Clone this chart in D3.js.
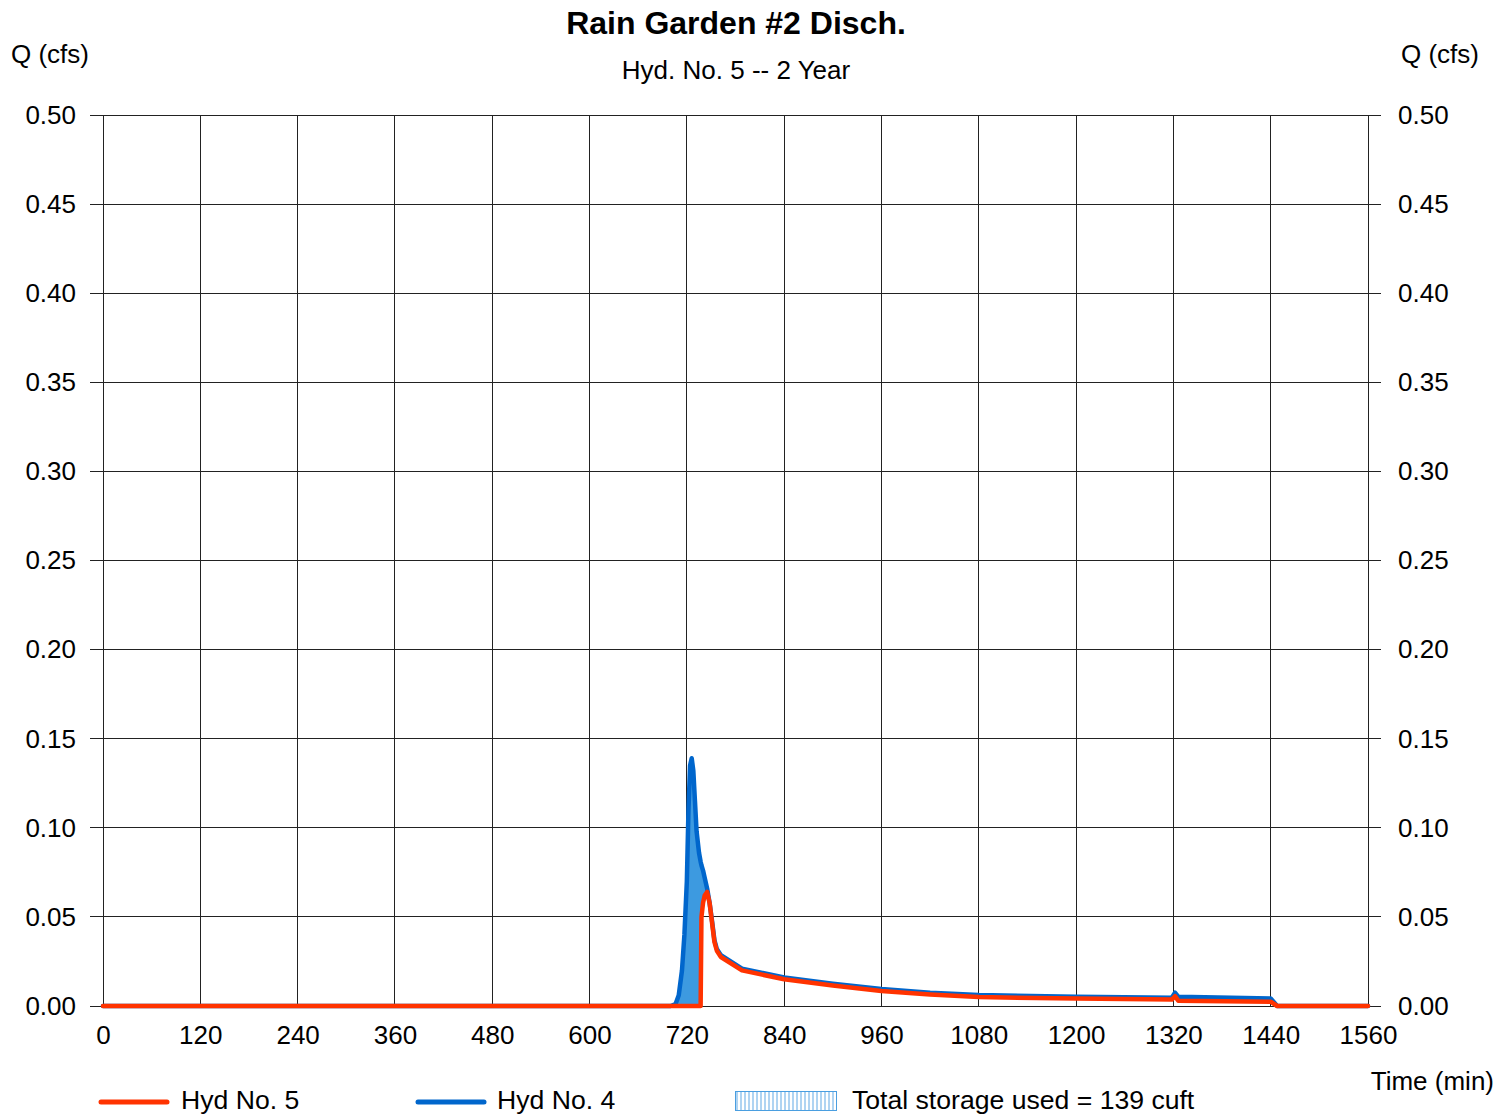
<!DOCTYPE html>
<html>
<head>
<meta charset="utf-8">
<script src="https://cdn.jsdelivr.net/npm/d3@7"></script>
<style>
  html, body { margin: 0; padding: 0; background: #fff; }
  svg { display: block; font-family: "Liberation Sans", Arial, sans-serif; }
</style>
</head>
<body>
<svg id="chart" width="1497" height="1116"></svg>
<script>
// Hydrograph time steps (min)
const times = [0, 700, 706, 710, 714, 717, 720, 722, 724, 726, 728, 730, 732, 735, 737, 738, 740, 742, 745, 748, 751, 754, 757, 762, 788, 840, 900, 960, 1020, 1080, 1200, 1318, 1322, 1326, 1440, 1448, 1560];
// Hyd No. 4 — inflow to the rain garden (cfs)
const hyd4 = [0, 0, 0.001, 0.006, 0.02, 0.04, 0.07, 0.11, 0.135, 0.139, 0.132, 0.115, 0.098, 0.086, 0.081, 0.079, 0.076, 0.072, 0.066, 0.058, 0.048, 0.037, 0.032, 0.0285, 0.021, 0.016, 0.0125, 0.0095, 0.0075, 0.0062, 0.0052, 0.0047, 0.0075, 0.0052, 0.0042, 0, 0];
// Hyd No. 5 — discharge from the rain garden (cfs)
const hyd5 = [0, 0, 0, 0, 0, 0, 0, 0, 0, 0, 0, 0, 0, 0, 0, 0.05, 0.058, 0.062, 0.064, 0.058, 0.047, 0.036, 0.031, 0.0275, 0.020, 0.015, 0.0115, 0.0084, 0.0065, 0.005, 0.0042, 0.0036, 0.0055, 0.003, 0.0024, 0, 0];

const xTicks = [0, 120, 240, 360, 480, 600, 720, 840, 960, 1080, 1200, 1320, 1440, 1560];
const yTicks = [0, 0.05, 0.10, 0.15, 0.20, 0.25, 0.30, 0.35, 0.40, 0.45, 0.50];

const titleText = "Rain Garden #2 Disch.";
const subtitleText = "Hyd. No. 5 -- 2 Year";
const yLabel = "Q (cfs)";
const xLabel = "Time (min)";
const legendItems = ["Hyd No. 5", "Hyd No. 4", "Total storage used = 139 cuft"];

const RED = "#ff3300", BLUE = "#0066cc", FILL = "#3d9ae0";

const svg = d3.select("#chart");
const plotL = 103, plotR = 1368, plotT = 115, plotB = 1006;

const x = d3.scaleLinear().domain([0, 1560]).range([plotL, plotR]);
const y = d3.scaleLinear().domain([0, 0.5]).range([plotB, plotT]);

const series = times.map((t, i) => ({ t, q4: hyd4[i], q5: hyd5[i] }));

// grid
const grid = svg.append("g").attr("stroke", "#222").attr("stroke-width", 1).attr("shape-rendering", "crispEdges");
grid.selectAll("line.v").data(xTicks).join("line").attr("class", "v")
  .attr("x1", d => x(d)).attr("x2", d => x(d)).attr("y1", plotT).attr("y2", plotB);
grid.selectAll("line.h").data(yTicks).join("line").attr("class", "h")
  .attr("x1", plotL - 13).attr("x2", plotR + 13).attr("y1", d => y(d)).attr("y2", d => y(d));

// y axes (left and right), ticks drawn by the grid lines extending out
const yFmt = d3.format(".2f");
const leftAxis = d3.axisLeft(y).tickValues(yTicks).tickFormat(yFmt).tickSize(0).tickPadding(27);
const rightAxis = d3.axisRight(y).tickValues(yTicks).tickFormat(yFmt).tickSize(0).tickPadding(30);
const xAxis = d3.axisBottom(x).tickValues(xTicks).tickFormat(d3.format("d")).tickSize(0).tickPadding(20);

function styleAxis(g) {
  g.select(".domain").remove();
  g.selectAll("text").attr("font-size", 26).attr("fill", "#000").attr("font-family", "Liberation Sans, Arial, sans-serif");
}
svg.append("g").attr("transform", `translate(${plotL},0)`).call(leftAxis).call(styleAxis);
svg.append("g").attr("transform", `translate(${plotR},0)`).call(rightAxis).call(styleAxis);
svg.append("g").attr("transform", `translate(0,${plotB})`).call(xAxis).call(styleAxis);

// storage area between inflow and outflow
const area = d3.area()
  .x(d => x(d.t))
  .y0(d => y(Math.min(d.q4, d.q5)))
  .y1(d => y(d.q4));
svg.append("path").datum(series).attr("d", area).attr("fill", FILL);

const line4 = d3.line().x(d => x(d.t)).y(d => y(d.q4));
const line5 = d3.line().x(d => x(d.t)).y(d => y(d.q5));
svg.append("path").datum(series).attr("d", line4).attr("fill", "none")
  .attr("stroke", BLUE).attr("stroke-width", 4.5).attr("stroke-linejoin", "round").attr("stroke-linecap", "round");
svg.append("path").datum(series).attr("d", line5).attr("fill", "none")
  .attr("stroke", RED).attr("stroke-width", 4.5).attr("stroke-linejoin", "round").attr("stroke-linecap", "round");

// titles
svg.append("text").attr("x", 736).attr("y", 34).attr("text-anchor", "middle")
  .attr("font-size", 32).attr("font-weight", "bold").text(titleText);
svg.append("text").attr("x", 736).attr("y", 79).attr("text-anchor", "middle")
  .attr("font-size", 26).text(subtitleText);
svg.append("text").attr("x", 11).attr("y", 63).attr("font-size", 26).text(yLabel);
svg.append("text").attr("x", 1479).attr("y", 63).attr("text-anchor", "end").attr("font-size", 26).text(yLabel);
svg.append("text").attr("x", 1494).attr("y", 1090).attr("text-anchor", "end").attr("font-size", 26).text(xLabel);

// legend
const defs = svg.append("defs");
const pat = defs.append("pattern").attr("id", "hatch").attr("patternUnits", "userSpaceOnUse")
  .attr("width", 4).attr("height", 4);
pat.append("rect").attr("width", 4).attr("height", 4).attr("fill", "#fff");
pat.append("line").attr("x1", 1).attr("x2", 1).attr("y1", 0).attr("y2", 4).attr("stroke", "#7bb8ea").attr("stroke-width", 1.2);

const legY = 1102;
const legText = 1109;
svg.append("line").attr("x1", 101).attr("x2", 167).attr("y1", legY).attr("y2", legY)
  .attr("stroke", RED).attr("stroke-width", 5).attr("stroke-linecap", "round");
svg.append("text").attr("x", 181).attr("y", legText).attr("font-size", 26.6).text(legendItems[0]);
svg.append("line").attr("x1", 418).attr("x2", 484).attr("y1", legY).attr("y2", legY)
  .attr("stroke", BLUE).attr("stroke-width", 5).attr("stroke-linecap", "round");
svg.append("text").attr("x", 497).attr("y", legText).attr("font-size", 26.6).text(legendItems[1]);
svg.append("rect").attr("x", 735.5).attr("y", 1091.5).attr("width", 101).attr("height", 19)
  .attr("fill", "url(#hatch)").attr("stroke", "#4a9ee0").attr("stroke-width", 1);
svg.append("text").attr("x", 852).attr("y", legText).attr("font-size", 26.6).text(legendItems[2]);
</script>
</body>
</html>
